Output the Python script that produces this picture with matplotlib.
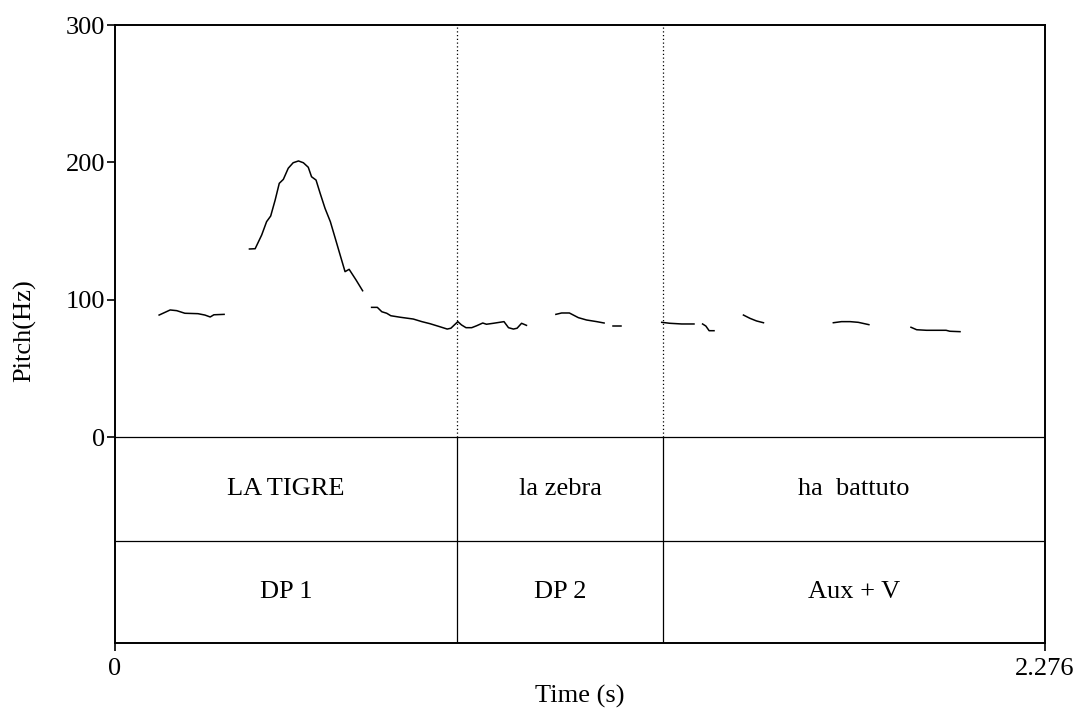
import matplotlib
matplotlib.use("Agg")
import matplotlib.pyplot as plt

plt.rcParams['font.family'] = ['Liberation Serif', 'DejaVu Serif']

# pitch contour pieces (time in s, pitch in Hz)
seg_times = [
    [0.108, 0.135, 0.151, 0.171, 0.203, 0.220, 0.233, 0.242, 0.267],
    [0.329, 0.343, 0.359, 0.371, 0.381, 0.392, 0.402, 0.412, 0.424, 0.436, 0.449,
     0.461, 0.473, 0.481, 0.492, 0.502, 0.514, 0.527, 0.539, 0.551, 0.563, 0.573,
     0.590, 0.606],
    [0.628, 0.642, 0.653, 0.665, 0.675, 0.698, 0.730, 0.751, 0.771, 0.795, 0.813,
     0.822, 0.839, 0.848, 0.859, 0.873, 0.885, 0.900, 0.909, 0.926, 0.952, 0.963,
     0.975, 0.984, 0.995, 1.007],
    [1.079, 1.093, 1.112, 1.134, 1.154, 1.179, 1.197],
    [1.218, 1.238],
    [1.338, 1.358, 1.387, 1.417],
    [1.438, 1.446, 1.454, 1.466],
    [1.538, 1.554, 1.570, 1.587],
    [1.758, 1.778, 1.799, 1.819, 1.845],
    [1.948, 1.962, 1.986, 2.011, 2.034, 2.043, 2.068],
]
seg_pitch = [
    [88.8, 92.5, 92.0, 90.1, 89.8, 88.8, 87.4, 89.0, 89.3],
    [136.9, 137.1, 147.1, 156.8, 160.9, 172.6, 184.7, 187.6, 195.7, 199.7, 201.0,
     199.7, 196.4, 189.5, 187.1, 177.5, 166.5, 156.8, 144.7, 132.5, 120.4, 122.1,
     114.3, 106.5],
    [94.4, 94.4, 91.2, 90.1, 88.3, 87.2, 85.9, 84.0, 82.5, 80.3, 78.6,
     79.2, 84.0, 81.6, 79.6, 79.6, 81.0, 83.0, 82.1, 82.8, 84.0, 79.6,
     78.6, 79.2, 82.8, 81.3],
    [89.3, 90.3, 90.3, 86.9, 85.2, 84.0, 83.0],
    [80.6, 80.6],
    [83.5, 82.8, 82.3, 82.3],
    [82.3, 80.8, 77.4, 77.4],
    [88.8, 86.4, 84.5, 83.2],
    [83.2, 84.0, 84.0, 83.5, 81.8],
    [79.9, 78.1, 77.7, 77.7, 77.7, 77.0, 76.7],
]

t_end = 2.276
boundaries = [0.837, 1.341]
tier1_labels = ["LA TIGRE", "la zebra", "ha  battuto"]
tier2_labels = ["DP 1", "DP 2", "Aux + V"]

tier_h = 75.7
y_bottom = -150.0
fs = 19

fig = plt.figure(figsize=(10.77, 7.11), dpi=100)
ax = fig.add_axes([115 / 1077, 1 - 643 / 711, 930 / 1077, 618 / 711])

for ts, ps in zip(seg_times, seg_pitch):
    ax.plot(ts, ps, color="black", lw=1.1)

# tier lines
ax.axhline(0, color="black", lw=0.9)
ax.axhline(-tier_h, color="black", lw=0.9)
for b in boundaries:
    ax.plot([b, b], [0, 300], color="black", lw=0.9, linestyle=(0, (1, 2)))
    ax.plot([b, b], [y_bottom, 0], color="black", lw=0.9)

edges = [0.0] + boundaries + [t_end]
for i in range(3):
    xc = (edges[i] + edges[i + 1]) / 2
    ax.text(xc, -tier_h / 2, tier1_labels[i], ha="center", va="center", fontsize=fs)
    ax.text(xc, (y_bottom - tier_h) / 2, tier2_labels[i],
            ha="center", va="center", fontsize=fs)

ax.set_xlim(0, t_end)
ax.set_ylim(y_bottom, 300)
ax.set_yticks([0, 100, 200, 300])
ax.set_xticks([0, t_end])
ax.set_xticklabels(["0", "2.276"])
ax.tick_params(labelsize=fs, length=6, width=1.2, direction="out", pad=1)
ax.tick_params(axis="x", pad=5)
for s in ax.spines.values():
    s.set_linewidth(1.4)

ax.set_xlabel("Time (s)", fontsize=fs, labelpad=3)
ax.set_ylabel("Pitch(Hz)", fontsize=fs)
ax.yaxis.set_label_coords(-0.085, 0.505)

fig.savefig("out.png", dpi=100)
